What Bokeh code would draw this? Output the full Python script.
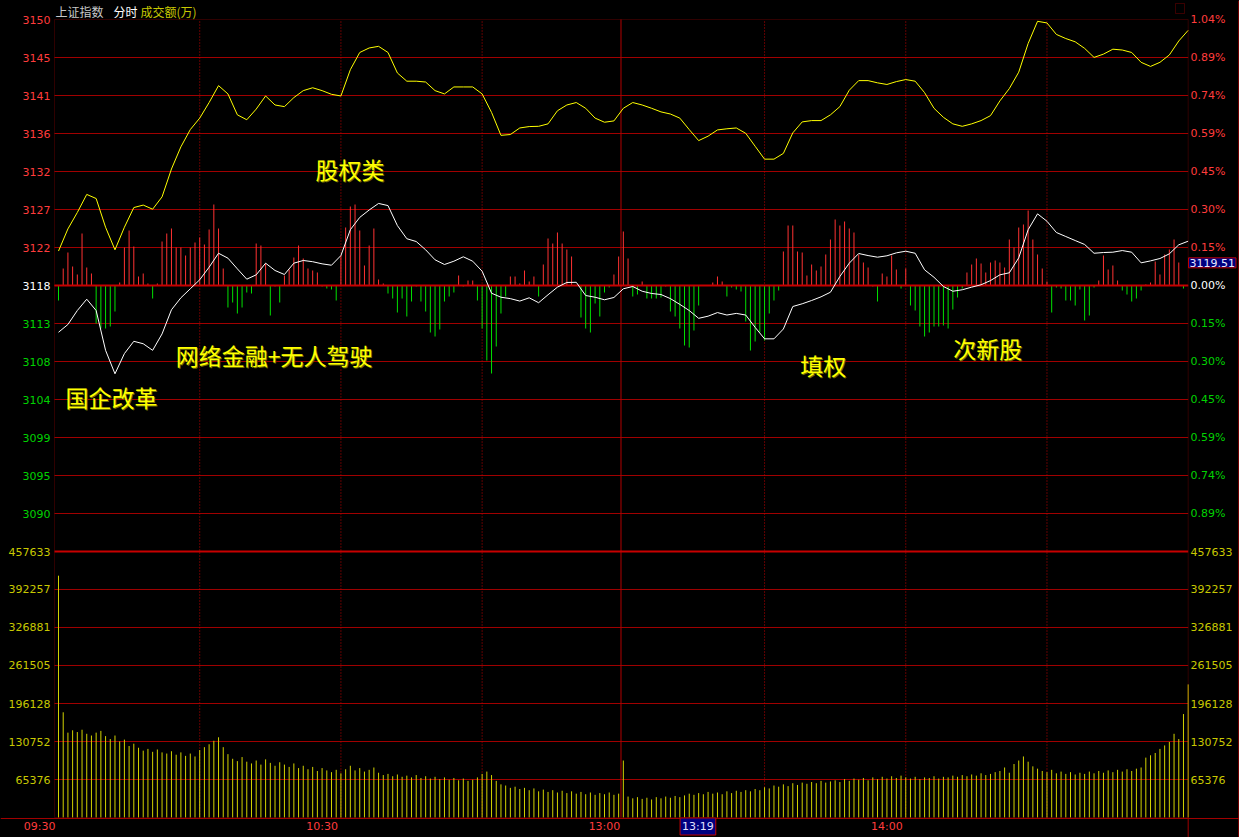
from bokeh.plotting import figure
from bokeh.models import Range1d, ColumnDataSource, LabelSet, Label, BoxAnnotation
from bokeh.embed import file_html
from bokeh.resources import INLINE
from bokeh.core.properties import value

# ---------------- data ----------------
prev_close = 3117.6
price_step = 4.6314          # one grid interval (0.1486 %)
vol_top = 457633

minutes = list(range(241))           # 09:30 .. 15:00, one slot per minute
minutes_line = list(range(0, 241, 2))

yellow = [3121.8, 3124.5, 3126.5, 3128.7, 3128.2, 3124.7, 3121.95, 3124.7, 3127.1, 3127.4,
          3126.9, 3128.4, 3131.8, 3134.5, 3136.6, 3138.0, 3139.9, 3141.96, 3140.95, 3138.4,
          3137.8, 3139.1, 3140.7, 3139.6, 3139.4, 3140.5, 3141.35, 3141.7, 3141.35, 3140.9,
          3140.7, 3143.9, 3146.0, 3146.55, 3146.75, 3146.0, 3143.5, 3142.5, 3142.5, 3142.4,
          3141.35, 3140.95, 3141.8, 3141.8, 3141.8, 3140.95, 3138.7, 3135.9, 3136.0, 3136.8,
          3136.97, 3137.0, 3137.3, 3138.9, 3139.6, 3139.9, 3139.2, 3138.0, 3137.5, 3137.66,
          3139.2, 3139.9, 3139.6, 3139.2, 3138.76, 3138.5, 3138.0, 3136.6, 3135.26, 3135.8,
          3136.56, 3136.7, 3136.8, 3136.15, 3134.57, 3133.0, 3133.0, 3133.7, 3136.2, 3137.54,
          3137.7, 3137.7, 3138.4, 3139.4, 3141.4, 3142.57, 3142.57, 3142.3, 3142.1, 3142.45,
          3142.7, 3142.5, 3141.1, 3139.2, 3138.1, 3137.3, 3137.0, 3137.3, 3137.7, 3138.3,
          3140.1, 3141.6, 3143.6, 3147.1, 3149.8, 3149.6, 3148.2, 3147.7, 3147.3, 3146.5,
          3145.4, 3145.8, 3146.4, 3146.3, 3146.0, 3144.8, 3144.3, 3144.8, 3145.7, 3147.4,
          3148.7]

white = [3111.9, 3112.85, 3114.55, 3115.93, 3114.55, 3109.7, 3106.84, 3109.3, 3110.8, 3110.5,
         3109.7, 3111.7, 3114.64, 3116.1, 3117.2, 3118.3, 3119.83, 3121.53, 3120.93, 3119.63,
         3118.37, 3118.9, 3120.32, 3119.43, 3118.94, 3120.32, 3120.65, 3120.5, 3120.24, 3120.07,
         3121.25, 3124.4, 3125.9, 3126.8, 3127.6, 3127.34, 3124.9, 3123.3, 3122.96, 3121.95,
         3120.73, 3120.16, 3120.56, 3121.1, 3120.56, 3119.34, 3116.66, 3116.17, 3116.0, 3115.7,
         3116.1, 3115.5, 3116.47, 3117.4, 3117.97, 3117.99, 3116.38, 3116.17, 3115.86, 3116.14,
         3117.2, 3117.48, 3116.9, 3116.63, 3116.5, 3116.0, 3115.3, 3114.55, 3113.6, 3113.86,
         3114.3, 3114.0, 3114.2, 3114.0, 3112.5, 3111.1, 3111.1, 3112.3, 3115.04, 3115.37,
         3115.77, 3116.22, 3116.78, 3118.7, 3120.32, 3121.5, 3121.25, 3121.05, 3121.22, 3121.58,
         3121.78, 3121.53, 3119.51, 3118.6, 3117.48, 3116.9, 3117.08, 3117.4, 3117.69, 3118.2,
         3118.9, 3119.15, 3120.97, 3124.4, 3126.33, 3125.43, 3124.06, 3123.57, 3123.08, 3122.6,
         3121.53, 3121.62, 3121.66, 3121.86, 3121.66, 3120.36, 3120.6, 3120.89, 3121.46, 3122.56,
         3123.0]

# buy/sell strength bars (red up, green down), own scale
force = [-15, 17, 33, 19, 11, 52, 18, 12, -38, -43,
         -43, -41, -26, 3, 38, 55, 39, 9, 12, 2,
         -13, 2, 44, 52, 57, 38, 38, 30, 38, 43,
         48, 41, 56, 81, 57, 17, -22, -17, -28, -22,
         -7, -8, 42, 40, 22, -30, -1, -17, 10, 16,
         28, 40, 27, 17, 15, 13, -1, -3, -4, -15,
         30, 58, 79, 81, 55, 20, 40, 57, 6, 2,
         -8, -13, -27, -13, -31, -16, -1, -16, -26, -47,
         -51, -44, -16, -11, -7, 10, -1, 5, 5, -15,
         -43, -75, -88, -61, -28, -11, 9, 9, 2, 15,
         4, 9, -11, 21, 47, 42, 53, 42, 36, 29,
         0, -32, -43, -47, -18, -31, -7, -2, 11, 29,
         54, 27, -11, -9, 4, -13, -13, -13, -12, -1,
         -26, -31, -43, -60, -62, -45, -20, 0, 0, 3,
         9, 4, -11, -2, -4, -6, -36, -65, -56, -47,
         -55, -28, -15, -5, 34, 60, 60, 34, 33, 10,
         21, 15, 19, 31, 46, 66, 60, 64, 57, 53,
         31, 23, 18, -1, -16, 12, 9, 30, 16, -3,
         17, -20, -25, -41, -51, -47, -41, -41, -40, -43,
         -24, -12, -3, 13, 21, 27, 22, 13, 23, 25,
         23, 18, 46, 38, 58, 61, 75, 46, 31, 17,
         4, -27, -2, -3, -15, -15, -20, -4, -35, -30,
         -2, 5, 30, 16, 20, 5, -5, -9, -16, -13,
         -5, 1, 3, 24, 11, 31, 36, 46, 23, -3,
         0]

volume = [416000, 181000, 146000, 150000, 147000, 151000, 144000, 141000, 146000, 149000,
          140000, 135000, 141000, 131000, 134000, 123000, 127000, 120000, 115000, 118000,
          113000, 117000, 112000, 110000, 114000, 108000, 112000, 106000, 110000, 105000,
          116000, 121000, 126000, 132000, 138000, 121000, 109000, 101000, 97000, 104000,
          96000, 93000, 98000, 91000, 100000, 94000, 89000, 95000, 91000, 87000,
          93000, 85000, 89000, 83000, 87000, 80000, 85000, 81000, 78000, 82000,
          76000, 83000, 89000, 81000, 85000, 79000, 82000, 86000, 77000, 73000,
          75000, 71000, 74000, 70000, 72000, 69000, 73000, 68000, 71000, 67000,
          70000, 66000, 69000, 65000, 68000, 64000, 67000, 63000, 65000, 69000,
          75000, 79000, 73000, 63000, 57000, 55000, 51000, 53000, 49000, 51000,
          47000, 50000, 45000, 48000, 44000, 47000, 43000, 46000, 42000, 45000,
          41000, 44000, 40000, 43000, 39000, 42000, 40000, 43000, 39000, 41000,
          98000, 36000, 33000, 35000, 32000, 34000, 31000, 35000, 33000, 36000,
          34000, 37000, 35000, 38000, 41000, 39000, 42000, 40000, 44000, 41000,
          43000, 40000, 45000, 42000, 46000, 44000, 47000, 45000, 49000, 47000,
          52000, 50000, 55000, 53000, 57000, 54000, 59000, 56000, 60000, 58000,
          61000, 59000, 63000, 60000, 62000, 64000, 61000, 66000, 63000, 67000,
          65000, 68000, 64000, 69000, 66000, 70000, 67000, 71000, 68000, 72000,
          69000, 67000, 70000, 66000, 69000, 68000, 71000, 67000, 70000, 69000,
          72000, 70000, 73000, 71000, 74000, 72000, 76000, 73000, 75000, 78000,
          80000, 86000, 77000, 92000, 98000, 105000, 96000, 88000, 84000, 80000,
          78000, 82000, 76000, 79000, 75000, 78000, 74000, 77000, 75000, 79000,
          76000, 80000, 77000, 81000, 78000, 82000, 79000, 83000, 80000, 84000,
          86000, 103000, 107000, 111000, 118000, 124000, 130000, 144000, 135000, 178000,
          229000]

price_tick_labels = ["3150", "3145", "3141", "3136", "3132", "3127", "3122", "3118",
                     "3113", "3108", "3104", "3099", "3095", "3090"]
pct_tick_labels = ["1.04%", "0.89%", "0.74%", "0.59%", "0.45%", "0.30%", "0.15%", "0.00%",
                   "0.15%", "0.30%", "0.45%", "0.59%", "0.74%", "0.89%"]
vol_ticks = [457633, 392257, 326881, 261505, 196128, 130752, 65376]
vol_tick_labels = ["457633", "392257", "326881", "261505", "196128", "130752", "65376"]
time_ticks = [0, 60, 120, 180]
time_labels = ["09:30", "10:30", "13:00", "14:00"]
half_hour_lines = [30, 60, 90, 150, 180, 210]
noon_line = [119.5]

note_text = ["股权类", "网络金融+无人驾驶", "国企改革", "填权", "次新股"]
note_x = [54.6, 24.9, 1.5, 157.6, 190.1]
note_y = [3131.85, 3109.07, 3103.96, 3107.86, 3109.93]

# ---------------- style / layout ----------------
RED_TXT = "#ff3c3c"
GREEN_TXT = "#00d200"
WHITE_TXT = "#ffffff"
YEL_TXT = "#c8c800"
GRID = "#a00000"
THICK = "#c80000"
BAR_RED = "#ff3232"
BAR_GREEN = "#00e000"
VOL_COL = "#d2d200"

W, H = 1239, 837
price_ticks = [prev_close + (7 - k) * price_step for k in range(14)]
label_colors = [RED_TXT] * 7 + [WHITE_TXT] + [GREEN_TXT] * 6

# the whole canvas is the frame; the chart box sits inside it
px_per_min = 4.707
x_first = 58.0                      # canvas x of 09:30
px_per_step = 38.0                  # one grid interval in pixels
zero_px = 285.0                     # canvas y of the previous close
box_left, box_right = -0.85, 240.0  # chart box in minutes
p_per_px = price_step / px_per_step
v_per_px = vol_top / (7 * px_per_step)

x_lo = -x_first / px_per_min
x_hi = (W - x_first) / px_per_min
y_hi = prev_close + zero_px * p_per_px
y_lo = prev_close - (H - zero_px) * p_per_px
box_top = prev_close + 7 * price_step
box_bottom = prev_close - 14 * price_step
vol_bottom_px = zero_px + 14 * px_per_step          # canvas y of volume 0

p = figure(width=W, height=H, output_backend="svg", toolbar_location=None,
           x_axis_location=None, y_axis_location=None, title=None,
           min_border=0, min_border_left=0, min_border_right=0,
           min_border_top=0, min_border_bottom=0,
           background_fill_color="black", border_fill_color="black",
           x_range=Range1d(x_lo, x_hi), y_range=Range1d(y_lo, y_hi))
p.extra_y_ranges = {
    "vol": Range1d(-(H - vol_bottom_px) * v_per_px, vol_bottom_px * v_per_px),
    "force": Range1d(-(H - zero_px), zero_px),
}
p.outline_line_color = None
for g in p.grid:
    g.visible = False

n = len(price_ticks) - 1
# horizontal grid lines inside the chart box
p.segment(x0=[box_left] * n, x1=[box_right] * n, y0=price_ticks[1:], y1=price_ticks[1:],
          line_color=GRID, line_width=1)
nv = len(vol_ticks) - 1
p.segment(x0=[box_left] * nv, x1=[box_right] * nv, y0=vol_ticks[1:], y1=vol_ticks[1:],
          y_range_name="vol", line_color=GRID, line_width=1)
# time grid
nh = len(half_hour_lines)
p.segment(x0=half_hour_lines, x1=half_hour_lines, y0=[box_bottom] * nh, y1=[box_top] * nh,
          line_color="#c00000", line_width=1, line_dash="1 2")
p.segment(x0=noon_line, x1=noon_line, y0=[box_bottom], y1=[box_top],
          line_color="#b40000", line_width=1)

# strength bars
fsrc = ColumnDataSource(dict(x=minutes, y0=[0] * len(force), y1=force,
                             c=[BAR_RED if v > 0 else BAR_GREEN for v in force]))
p.segment(x0="x", y0="y0", x1="x", y1="y1", line_color="c", line_width=1,
          y_range_name="force", source=fsrc)

# thick zero line and panel divider
p.segment(x0=[box_left], x1=[box_right], y0=[prev_close], y1=[prev_close],
          line_color=THICK, line_width=2)
p.segment(x0=[box_left], x1=[box_right], y0=[vol_top], y1=[vol_top],
          y_range_name="vol", line_color=THICK, line_width=2)

# volume bars
vsrc = ColumnDataSource(dict(x=minutes, y0=[0] * len(volume), y1=volume))
p.segment(x0="x", y0="y0", x1="x", y1="y1", line_color=VOL_COL, line_width=1,
          y_range_name="vol", source=vsrc)

# price lines
p.line(minutes_line, yellow, line_color="#ffff00", line_width=1)
p.line(minutes_line, white, line_color="#ffffff", line_width=1)

# chart box and bottom rules
p.add_layout(BoxAnnotation(left=box_left, right=box_right, top=box_top, bottom=box_bottom,
                           fill_alpha=0, line_color=GRID, line_width=1))
p.segment(x0=[x_lo], x1=[x_hi], y0=[box_bottom - p_per_px], y1=[box_bottom - p_per_px],
          line_color=GRID, line_width=1)
p.segment(x0=[box_right], x1=[box_right], y0=[y_lo], y1=[box_bottom],
          line_color=GRID, line_width=1)
p.segment(x0=[x_hi - 0.15], x1=[x_hi - 0.15], y0=[y_lo], y1=[y_hi],
          line_color=GRID, line_width=1)

# axis labels
font = value("DejaVu Sans")
lx, rx = 50, 1190
lsrc = ColumnDataSource(dict(y=price_ticks, t=price_tick_labels, c=label_colors))
p.add_layout(LabelSet(x=lx, x_units="screen", y="y", text="t", text_color="c", source=lsrc,
                      text_align="right", text_baseline="middle",
                      text_font_size="11px", text_font=font))
rsrc = ColumnDataSource(dict(y=price_ticks, t=pct_tick_labels, c=label_colors))
p.add_layout(LabelSet(x=rx, x_units="screen", y="y", text="t", text_color="c", source=rsrc,
                      text_align="left", text_baseline="middle",
                      text_font_size="11px", text_font=font))
vsl = ColumnDataSource(dict(y=vol_ticks, t=vol_tick_labels))
p.add_layout(LabelSet(x=lx, x_units="screen", y="y", text="t", source=vsl, y_range_name="vol",
                      text_color=YEL_TXT, text_align="right", text_baseline="middle",
                      text_font_size="11px", text_font=font))
p.add_layout(LabelSet(x=rx, x_units="screen", y="y", text="t", source=vsl, y_range_name="vol",
                      text_color=YEL_TXT, text_align="left", text_baseline="middle",
                      text_font_size="11px", text_font=font))
time_y = 11
tsrc = ColumnDataSource(dict(x=time_ticks, t=time_labels))
p.add_layout(LabelSet(x="x", y=time_y, y_units="screen", text="t", source=tsrc,
                      x_offset=-3, text_color=RED_TXT, text_align="right",
                      text_baseline="middle", text_font_size="11px", text_font=font))

# cursor readouts
p.add_layout(Label(x=139, y=time_y, y_units="screen", text="13:19", text_align="right",
                   x_offset=3, text_baseline="middle", text_color="#e0e0ff",
                   text_font_size="11px", text_font="DejaVu Sans", padding=2,
                   background_fill_color="#000080", border_line_color="#c00000"))
p.add_layout(Label(x=1188, x_units="screen", y=3119.51, y_offset=2, text="3119.51",
                   text_align="left", text_baseline="bottom", text_color="#e8e8ff",
                   text_font_size="11px", text_font="DejaVu Sans", padding=1,
                   background_fill_color="#000080", border_line_color="#c00000"))

# header
cjk = "Noto Sans CJK SC"
for xs, txt, col in [(55, "上证指数", "#c8c8c8"), (113, "分时", "#ffffff"), (140, "成交额(万)", YEL_TXT)]:
    p.add_layout(Label(x=xs, y=H - 2, x_units="screen", y_units="screen", text=txt,
                       text_align="left", text_baseline="top", text_color=col,
                       text_font_size="12px", text_font=cjk))
p.add_layout(BoxAnnotation(left=1175, right=1184, top=H - 3, bottom=H - 13,
                           left_units="screen", right_units="screen",
                           top_units="screen", bottom_units="screen",
                           fill_alpha=0, line_color="#c00000", line_width=1))

# theme annotations (slight dark shade behind, as in the reference)
nsrc = ColumnDataSource(dict(x=note_x, y=note_y, t=note_text))
p.add_layout(LabelSet(x="x", y="y", text="t", source=nsrc, text_color="#6e6e00",
                      x_offset=1, y_offset=-1,
                      text_align="left", text_baseline="middle",
                      text_font_size="23px", text_font=value(cjk)))
p.add_layout(LabelSet(x="x", y="y", text="t", source=nsrc, text_color="#ffff00",
                      text_align="left", text_baseline="middle",
                      text_font_size="23px", text_font=value(cjk)))

html = file_html(p, INLINE)
html = html.replace("</head>", "<style>body{background:#000;}</style></head>", 1)
open("out.html", "w").write(html)
